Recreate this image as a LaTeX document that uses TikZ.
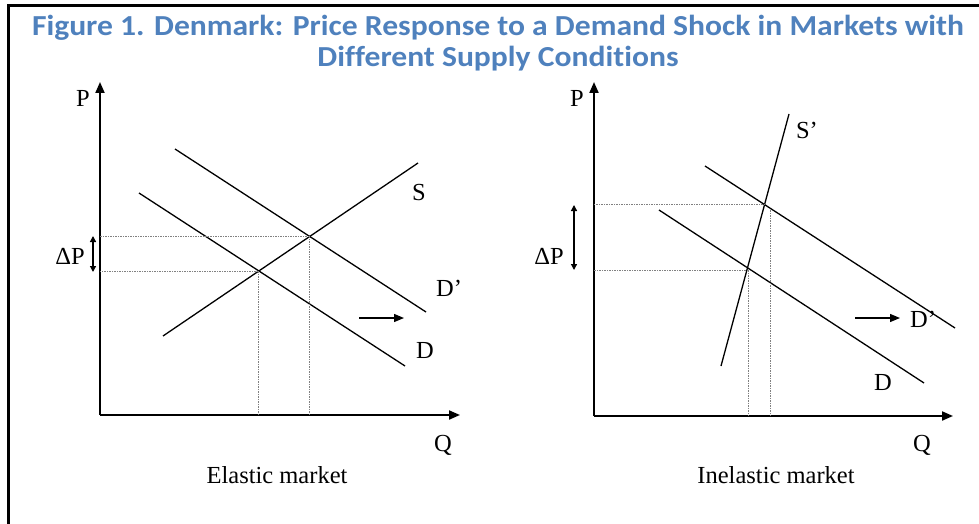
\documentclass[tikz,border=0pt]{standalone}
\usepackage{fontspec}
\setmainfont{Liberation Serif}
\newfontfamily\titlefont[FakeStretch=1.09,Ligatures=NoCommon]{Carlito}
\usetikzlibrary{arrows.meta}
\definecolor{titleblue}{RGB}{79,129,189}

\begin{document}
\begin{tikzpicture}[x=1pt,y=-1pt,
        axis/.style={line width=2pt,-{Triangle[length=11pt,width=9pt]}},
        curve/.style={line width=1.3pt},
        guide/.style={line width=0.7pt,gray,dash pattern=on 1.5pt off 1pt},
        shiftarrow/.style={line width=1.3pt,-{Triangle[length=10pt,width=8pt]}},
        delta/.style={line width=1.3pt,{Triangle[length=6pt,width=6pt]}-{Triangle[length=6pt,width=6pt]}},
        lbl/.style={font=\fontsize{24.5}{26}\selectfont,inner sep=0pt}]
    \useasboundingbox (0,0) rectangle (979,524);

    % Frame
    \draw[line width=3pt] (8,524) -- (8,6) -- (979,6);

    % Title
    \node[font=\titlefont\bfseries\fontsize{29}{30.5}\selectfont,text=titleblue,
          align=center,inner sep=0pt] (title) at (498,43)
        {Figure 1. Denmark: Price Response to a Demand Shock in Markets with\\
         Different Supply Conditions};

    % Elastic market
    \coordinate (o1) at (100,415);
    \coordinate (p1) at (100,82);
    \coordinate (q1) at (460,415);
    \draw[axis] (o1) -- (p1);
    \draw[axis] (o1) -- (q1);
    \node[lbl] (P1) at (83,98) {P};
    \node[lbl] (Q1) at (443,445) {Q};
    \node[lbl] (cap1) at (277,475) {Elastic market};

    \coordinate (s1a) at (163,336);
    \coordinate (s1b) at (418,163);
    \coordinate (d1a) at (139,193);
    \coordinate (d1b) at (405,366);
    \coordinate (e1a) at (175,149);
    \coordinate (e1b) at (426,312);
    \draw[curve] (s1a) -- (s1b);
    \draw[curve] (d1a) -- (d1b);
    \draw[curve] (e1a) -- (e1b);
    \node[lbl] (S1) at (419,193) {S};
    \node[lbl] (Dp1) at (449,288) {D’};
    \node[lbl] (D1) at (425,350) {D};

    \coordinate (x1new) at (309,236);
    \coordinate (x1old) at (258,271);
    \draw[guide] (x1new) -- (x1new -| o1);
    \draw[guide] (x1old) -- (x1old -| o1);
    \draw[guide] (x1new) -- (x1new |- o1);
    \draw[guide] (x1old) -- (x1old |- o1);

    \coordinate (dp1a) at (93,236);
    \coordinate (dp1b) at (93,272);
    \draw[delta] (dp1a) -- (dp1b);
    \node[lbl] (dP1) at (70,256) {ΔP};
    \coordinate (sh1a) at (359,318);
    \coordinate (sh1b) at (404,318);
    \draw[shiftarrow] (sh1a) -- (sh1b);

    % Inelastic market
    \coordinate (o2) at (594,416);
    \coordinate (p2) at (594,82);
    \coordinate (q2) at (953,416);
    \draw[axis] (o2) -- (p2);
    \draw[axis] (o2) -- (q2);
    \node[lbl] (P2) at (577,98) {P};
    \node[lbl] (Q2) at (922,445) {Q};
    \node[lbl] (cap2) at (776,475) {Inelastic market};

    \coordinate (s2a) at (721,366);
    \coordinate (s2b) at (789,114);
    \coordinate (d2a) at (659,210);
    \coordinate (d2b) at (924,383);
    \coordinate (e2a) at (705,166);
    \coordinate (e2b) at (955,328);
    \draw[curve] (s2a) -- (s2b);
    \draw[curve] (d2a) -- (d2b);
    \draw[curve] (e2a) -- (e2b);
    \node[lbl] (S2) at (807,130) {S’};
    \node[lbl] (Dp2) at (923,319) {D’};
    \node[lbl] (D2) at (883,382) {D};

    \coordinate (x2new) at (765,204);
    \coordinate (x2old) at (748,270);
    \coordinate (v2new) at (770,210);
    \draw[guide] (x2new) -- (x2new -| o2);
    \draw[guide] (x2old) -- (x2old -| o2);
    \draw[guide] (v2new) -- (v2new |- o2);
    \draw[guide] (x2old) -- (x2old |- o2);

    \coordinate (dp2a) at (574,205);
    \coordinate (dp2b) at (574,270);
    \draw[delta] (dp2a) -- (dp2b);
    \node[lbl] (dP2) at (549,256) {ΔP};
    \coordinate (sh2a) at (855,318);
    \coordinate (sh2b) at (900,318);
    \draw[shiftarrow] (sh2a) -- (sh2b);
\end{tikzpicture}
\end{document}
